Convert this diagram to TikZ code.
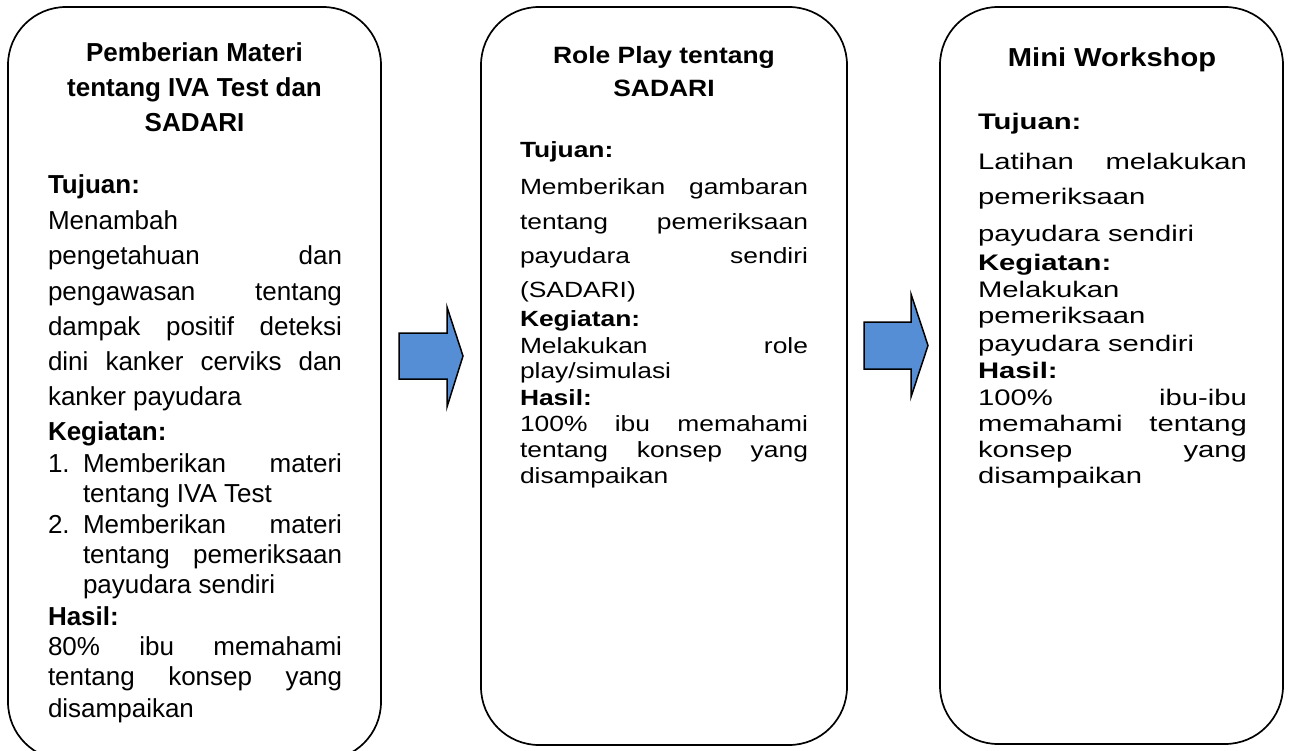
\documentclass[tikz,border=0pt]{standalone}
\usepackage{fontspec}
\setmainfont{Liberation Sans}
\newfontfamily\wideB[FakeStretch=1.2]{Liberation Sans}
\newfontfamily\wideC[FakeStretch=1.3]{Liberation Sans}
\newfontfamily\wideT[FakeStretch=1.12]{Liberation Sans}
\definecolor{arrowblue}{RGB}{85,142,213}
\newcommand\fA{\normalfont\fontsize{26}{30}\selectfont}
\newcommand\fB{\wideB\fontsize{22}{26}\selectfont}
\newcommand\fC{\wideC\fontsize{22.5}{26}\selectfont}
% name, x, y, width, text : justified line
\newcommand\lineJ[5]{\node[txt] (#1) at (#2,#3) {\makebox[#4pt][s]{#5}};}
% name, x, y, text : left line
\newcommand\lineL[4]{\node[txt] (#1) at (#2,#3) {#4};}
% name, x, y, text : centred line
\newcommand\lineC[4]{\node[ctxt] (#1) at (#2,#3) {#4};}
\begin{document}
\begin{tikzpicture}[x=1pt,y=-1pt,
  box/.style={draw=black, line width=1.7pt, rounded corners=58pt, inner sep=0pt, fill=none},
  txt/.style={anchor=base west, inner sep=0pt, outer sep=0pt},
  ctxt/.style={anchor=base, inner sep=0pt, outer sep=0pt},
  blockarrow/.style={draw=black, line width=1.5pt, fill=arrowblue, line join=miter}]
\useasboundingbox (0,0) rectangle (1292,751);
\fill[white] (0,0) rectangle (1292,751);

% boxes
\node[box, minimum width=373pt, minimum height=753pt] (box1) at (194.5,383.5) {};
\node[box, minimum width=366pt, minimum height=738pt] (box2) at (664,376) {};
\node[box, minimum width=343pt, minimum height=737pt] (box3) at (1111.5,375.5) {};

% arrows
\draw[blockarrow] (399,333) -- (447,333) -- (447,307) -- (463,356) -- (447,407) -- (447,379) -- (399,379) -- cycle;
\draw[blockarrow] (864,322) -- (911,322) -- (911,294) -- (928,345.5) -- (911,397) -- (911,369) -- (864,369) -- cycle;

% ---- box 1 ----
\lineC{a1}{194.5}{62}{\fA\bfseries Pemberian Materi}
\lineC{a2}{194.5}{97}{\fA\bfseries tentang IVA Test dan}
\lineC{a3}{194.5}{132}{\fA\bfseries SADARI}
\lineL{a4}{48}{194}{\fA\bfseries Tujuan:}
\lineL{a5}{48}{230}{\fA Menambah}
\lineJ{a6}{48}{265}{294}{\fA pengetahuan dan}
\lineJ{a7}{48}{300}{294}{\fA pengawasan tentang}
\lineJ{a8}{48}{335}{294}{\fA dampak positif deteksi}
\lineJ{a9}{48}{370}{294}{\fA dini kanker cerviks dan}
\lineL{a10}{48}{405}{\fA kanker payudara}
\lineL{a11}{48}{440}{\fA\bfseries Kegiatan:}
\lineL{a12}{48}{472}{\fA 1.}
\lineJ{a13}{83}{472}{259}{\fA Memberikan materi}
\lineL{a14}{83}{502}{\fA tentang IVA Test}
\lineL{a15}{48}{533}{\fA 2.}
\lineJ{a16}{83}{533}{259}{\fA Memberikan materi}
\lineJ{a17}{83}{563}{259}{\fA tentang pemeriksaan}
\lineL{a18}{83}{593}{\fA payudara sendiri}
\lineL{a19}{48}{625}{\fA\bfseries Hasil:}
\lineJ{a20}{48}{655}{294}{\fA 80\% ibu memahami}
\lineJ{a21}{48}{685}{294}{\fA tentang konsep yang}
\lineL{a22}{48}{717}{\fA disampaikan}

% ---- box 2 ----
\lineC{b1}{664}{64}{\wideT\fontsize{23.6}{28}\selectfont\bfseries Role Play tentang}
\lineC{b2}{664}{97}{\wideT\fontsize{23.6}{28}\selectfont\bfseries SADARI}
\lineL{b3}{520}{158}{\fB\bfseries Tujuan:}
\lineJ{b4}{520}{195}{288}{\fB Memberikan gambaran}
\lineJ{b5}{520}{230}{288}{\fB tentang pemeriksaan}
\lineJ{b6}{520}{264}{288}{\fB payudara sendiri}
\lineL{b7}{520}{297}{\fB (SADARI)}
\lineL{b8}{520}{326}{\fB\bfseries Kegiatan:}
\lineJ{b9}{520}{353}{288}{\fB Melakukan role}
\lineL{b10}{520}{378}{\fB play/simulasi}
\lineL{b11}{520}{405}{\fB\bfseries Hasil:}
\lineJ{b12}{520}{431}{288}{\fB 100\% ibu memahami}
\lineJ{b13}{520}{457}{288}{\fB tentang konsep yang}
\lineL{b14}{520}{483}{\fB disampaikan}

% ---- box 3 ----
\lineC{c1}{1112}{67}{\wideT\fontsize{26}{30}\selectfont\bfseries Mini Workshop}
\lineL{c2}{978}{130}{\fC\bfseries Tujuan:}
\lineJ{c3}{978}{170}{269}{\fC Latihan melakukan}
\lineL{c4}{978}{205}{\fC pemeriksaan}
\lineL{c5}{978}{242}{\fC payudara sendiri}
\lineL{c6}{978}{270}{\fC\bfseries Kegiatan:}
\lineL{c7}{978}{297}{\fC Melakukan}
\lineL{c8}{978}{323}{\fC pemeriksaan}
\lineL{c9}{978}{351}{\fC payudara sendiri}
\lineL{c10}{978}{378}{\fC\bfseries Hasil:}
\lineJ{c11}{978}{405}{269}{\fC 100\% ibu-ibu}
\lineJ{c12}{978}{431}{269}{\fC memahami tentang}
\lineJ{c13}{978}{457}{269}{\fC konsep yang}
\lineL{c14}{978}{483}{\fC disampaikan}
\end{tikzpicture}
\end{document}
